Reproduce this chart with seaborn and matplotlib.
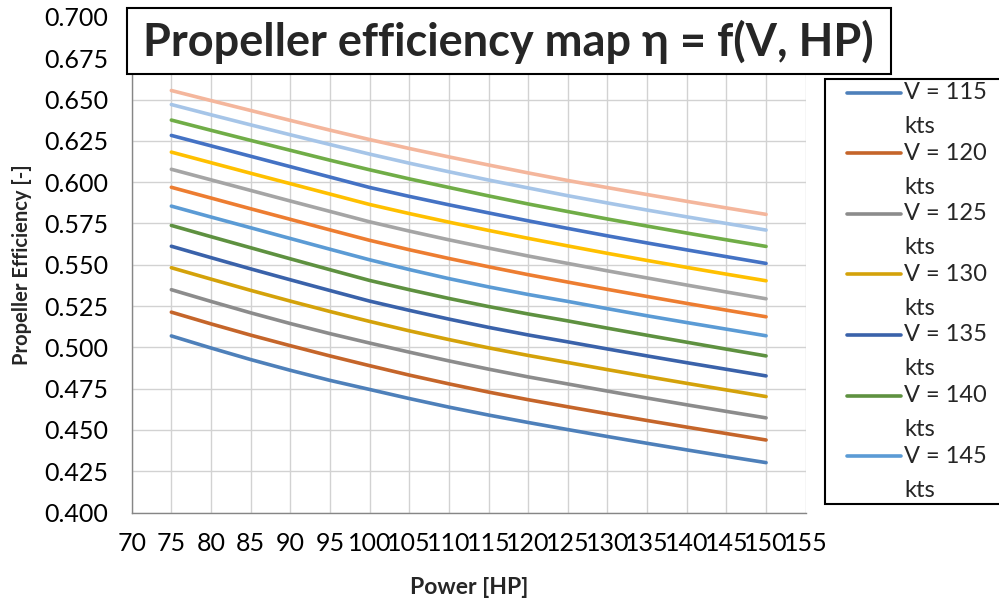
import matplotlib
matplotlib.use("Agg")
import matplotlib.pyplot as plt
from matplotlib.patches import Rectangle
from matplotlib.lines import Line2D
import numpy as np
import pandas as pd
import seaborn as sns

# Shaft power samples [HP]
power_hp = [75, 80, 85, 90, 95, 100, 105, 110, 115, 120, 125, 130, 135, 140, 145, 150]

# Airspeeds [kts]
speeds_kts = [115, 120, 125, 130, 135, 140, 145, 150, 155, 160, 165, 170, 175, 180]

# Propeller efficiency for each airspeed
eta_115 = [0.5069, 0.4996, 0.4926, 0.4861, 0.4800, 0.4745, 0.4690, 0.4638, 0.4590, 0.4545, 0.4502, 0.4460, 0.4419, 0.4379, 0.4340, 0.4302]
eta_120 = [0.5213, 0.5142, 0.5074, 0.5010, 0.4948, 0.4889, 0.4832, 0.4779, 0.4729, 0.4683, 0.4640, 0.4598, 0.4557, 0.4517, 0.4478, 0.4439]
eta_125 = [0.5349, 0.5278, 0.5209, 0.5144, 0.5083, 0.5026, 0.4971, 0.4918, 0.4868, 0.4821, 0.4778, 0.4735, 0.4693, 0.4652, 0.4612, 0.4573]
eta_130 = [0.5482, 0.5413, 0.5345, 0.5280, 0.5217, 0.5157, 0.5100, 0.5047, 0.4997, 0.4951, 0.4908, 0.4865, 0.4823, 0.4782, 0.4742, 0.4702]
eta_135 = [0.5612, 0.5543, 0.5475, 0.5409, 0.5344, 0.5280, 0.5224, 0.5171, 0.5121, 0.5075, 0.5033, 0.4990, 0.4948, 0.4907, 0.4867, 0.4827]
eta_140 = [0.5738, 0.5670, 0.5603, 0.5536, 0.5470, 0.5405, 0.5349, 0.5296, 0.5247, 0.5202, 0.5160, 0.5116, 0.5073, 0.5031, 0.4989, 0.4948]
eta_145 = [0.5855, 0.5789, 0.5724, 0.5659, 0.5594, 0.5530, 0.5471, 0.5416, 0.5366, 0.5320, 0.5278, 0.5234, 0.5191, 0.5150, 0.5110, 0.5070]
eta_150 = [0.5969, 0.5904, 0.5839, 0.5775, 0.5711, 0.5648, 0.5591, 0.5538, 0.5488, 0.5440, 0.5395, 0.5351, 0.5308, 0.5266, 0.5225, 0.5185]
eta_155 = [0.6078, 0.6014, 0.5950, 0.5886, 0.5823, 0.5760, 0.5704, 0.5651, 0.5601, 0.5553, 0.5508, 0.5463, 0.5420, 0.5377, 0.5335, 0.5294]
eta_160 = [0.6182, 0.6118, 0.6054, 0.5991, 0.5928, 0.5865, 0.5810, 0.5758, 0.5708, 0.5660, 0.5614, 0.5569, 0.5526, 0.5484, 0.5443, 0.5403]
eta_165 = [0.6283, 0.6220, 0.6157, 0.6094, 0.6031, 0.5968, 0.5914, 0.5863, 0.5814, 0.5766, 0.5720, 0.5675, 0.5632, 0.5590, 0.5549, 0.5508]
eta_170 = [0.6376, 0.6314, 0.6253, 0.6193, 0.6133, 0.6075, 0.6020, 0.5968, 0.5917, 0.5868, 0.5822, 0.5777, 0.5734, 0.5692, 0.5651, 0.5611]
eta_175 = [0.6470, 0.6408, 0.6347, 0.6287, 0.6228, 0.6170, 0.6115, 0.6063, 0.6013, 0.5965, 0.5918, 0.5874, 0.5831, 0.5790, 0.5750, 0.5710]
eta_180 = [0.6555, 0.6494, 0.6434, 0.6374, 0.6315, 0.6258, 0.6204, 0.6153, 0.6104, 0.6056, 0.6010, 0.5967, 0.5925, 0.5884, 0.5844, 0.5805]

eta_by_speed = [eta_115, eta_120, eta_125, eta_130, eta_135, eta_140, eta_145,
                eta_150, eta_155, eta_160, eta_165, eta_170, eta_175, eta_180]

# Office-style series colours: shaded accents, plain accents, tinted accents
series_colors = ["#4E80BA", "#C5652A", "#8C8C8C", "#D4A20A", "#3A62AA", "#5E9140",
                 "#5B9BD5", "#ED7D31", "#A5A5A5", "#FFC000", "#4472C4", "#70AD47",
                 "#A6C5E8", "#F4B69C"]

legend_count = 7
line_width = 2.6

df = pd.DataFrame({
    "power": np.tile(power_hp, len(speeds_kts)),
    "eta": np.concatenate(eta_by_speed),
    "speed": np.repeat(speeds_kts, len(power_hp)),
})

sns.set_style("white")
plt.rcParams["font.family"] = ["Lato", "DejaVu Sans"]

W, H = 999, 604
fig = plt.figure(figsize=(W / 100, H / 100), dpi=100)


def fx(px):
    return px / W


def fy(py):
    return 1 - py / H


ax = fig.add_axes([fx(131.7), fy(512.5), fx(805.7) - fx(131.7), fy(17) - fy(512.5)])

sns.lineplot(data=df, x="power", y="eta", hue="speed", hue_order=speeds_kts,
             palette=series_colors, linewidth=line_width, legend=False, ax=ax,
             solid_capstyle="round", solid_joinstyle="round")

ax.set_xlim(70, 155)
ax.set_ylim(0.4, 0.7)
ax.set_xticks(np.arange(70, 156, 5))
ax.set_yticks(np.arange(0.4, 0.7001, 0.025))
ax.yaxis.set_major_formatter(matplotlib.ticker.FormatStrFormatter("%.3f"))
ax.grid(True, color="#d2d2d2", linewidth=1.0)
ax.set_axisbelow(True)

for side in ("top", "right"):
    ax.spines[side].set_visible(False)
for side in ("left", "bottom"):
    ax.spines[side].set_color("#868686")
    ax.spines[side].set_linewidth(1.0)

ax.tick_params(axis="both", direction="out", length=6, width=1, color="#868686",
               labelsize=18, labelcolor="black")
ax.tick_params(axis="y", pad=11)
ax.tick_params(axis="x", pad=8)

ax.set_xlabel("Power [HP]", fontsize=16.5, fontweight="bold")
ax.set_ylabel("Propeller Efficiency [-]", fontsize=14.5, fontweight="bold")
ax.xaxis.label.set_va("center")
ax.yaxis.label.set_va("center")
ax.xaxis.set_label_coords(0.5, (512.5 - 588) / 495.5)
ax.yaxis.set_label_coords((22 - 131.7) / 674, 0.5)

# Title in a framed box overlapping the top of the plot area
fig.add_artist(Rectangle((fx(127), fy(74)), fx(891) - fx(127), fy(8) - fy(74),
                         transform=fig.transFigure, facecolor="white",
                         edgecolor="black", linewidth=1.5, zorder=10))
fig.text(fx(508.5), fy(42), "Propeller efficiency map η = f(V, HP)",
         ha="center", va="center", fontsize=32.5, fontweight="bold", zorder=11)

# Legend box (only the first entries fit in the frame)
fig.add_artist(Rectangle((fx(825), fy(504)), fx(1010) - fx(825), fy(79) - fy(504),
                         transform=fig.transFigure, facecolor="white",
                         edgecolor="black", linewidth=1.5, zorder=10))
for i in range(legend_count):
    yc = 92.5 + 60.6 * i
    fig.add_artist(Line2D([fx(847), fx(901)], [fy(yc), fy(yc)],
                          transform=fig.transFigure, color=series_colors[i],
                          linewidth=line_width, solid_capstyle="round", zorder=11))
    fig.text(fx(904), fy(yc), f"V = {speeds_kts[i]}", ha="left", va="center",
             fontsize=17, zorder=11)
    fig.text(fx(904), fy(yc + 34), "kts", ha="left", va="center",
             fontsize=17, zorder=11)

fig.savefig("out.png", dpi=100)
